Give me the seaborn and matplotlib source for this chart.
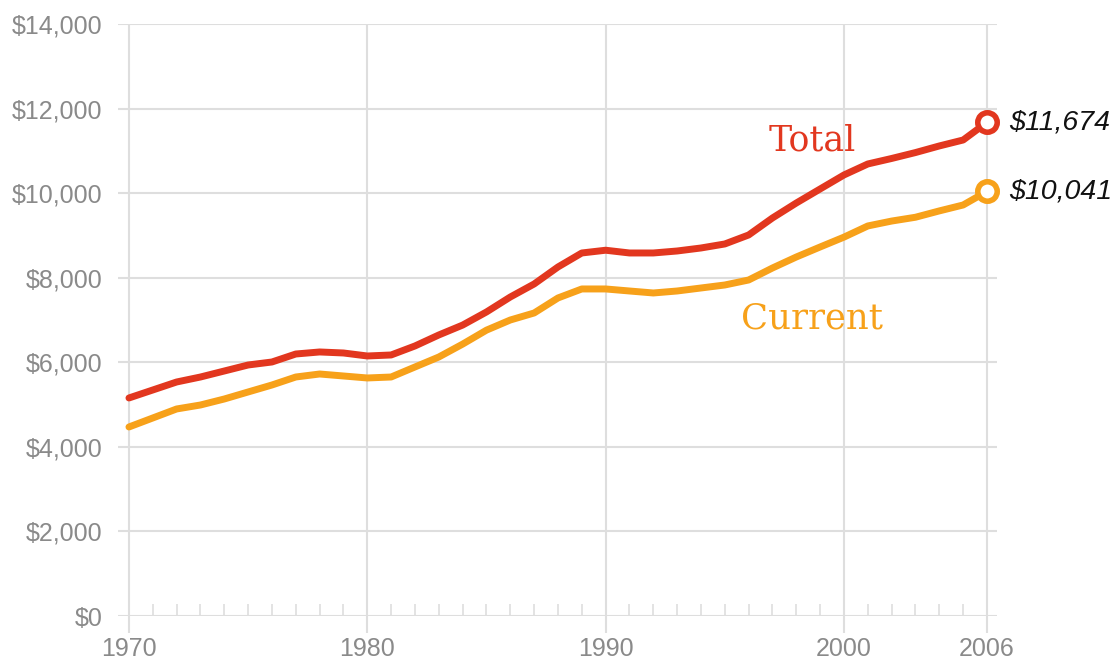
import matplotlib
matplotlib.use("Agg")
import matplotlib.pyplot as plt
import seaborn as sns
import pandas as pd
from matplotlib.ticker import FuncFormatter, MultipleLocator, FixedLocator

years = list(range(1970, 2007))
total = [5156, 5345, 5534, 5652, 5794, 5936, 6007, 6196, 6244, 6220,
         6149, 6173, 6386, 6646, 6880, 7190, 7544, 7852, 8254, 8585,
         8650, 8585, 8585, 8632, 8703, 8798, 9011, 9413, 9767, 10099,
         10430, 10690, 10820, 10960, 11116, 11257, 11674]
current = [4470, 4683, 4896, 4990, 5132, 5298, 5463, 5652, 5723, 5676,
           5629, 5652, 5889, 6125, 6430, 6760, 7000, 7166, 7521, 7734,
           7734, 7686, 7639, 7686, 7757, 7828, 7946, 8230, 8490, 8727,
           8960, 9224, 9340, 9430, 9580, 9720, 10041]
series_names = ["Total", "Current"]
xtick_years = [1970, 1980, 1990, 2000, 2006]

RED = "#E2371F"
ORANGE = "#F7A11A"
GRID = "#DEDEDE"
TICKC = "#8A8A8A"

df = pd.DataFrame({
    "year": years * 2,
    "value": total + current,
    "series": [series_names[0]] * len(years) + [series_names[1]] * len(years),
})

sns.set_theme(style="white")
plt.rcParams["font.family"] = ["Liberation Sans", "DejaVu Sans"]

fig = plt.figure(figsize=(11.17, 6.6), dpi=100)
ax = fig.add_axes([118 / 1117, 44 / 660, (997 - 118) / 1117, (616 - 24) / 660])

sns.lineplot(data=df, x="year", y="value", hue="series",
             palette={"Total": RED, "Current": ORANGE},
             linewidth=5, legend=False, ax=ax, zorder=3)

# endpoint markers
for vals, col in [(total, RED), (current, ORANGE)]:
    ax.plot([years[-1]], [vals[-1]], marker="o", markersize=14,
            markerfacecolor="white", markeredgecolor=col, markeredgewidth=4,
            zorder=5, clip_on=False)
    ax.annotate(f"${vals[-1]:,}", xy=(years[-1], vals[-1]),
                xytext=(16, 0), textcoords="offset points",
                ha="left", va="center", fontsize=20.5, style="italic",
                color="#111111", annotation_clip=False)

ax.text(1998.66, 11250, "Total", color=RED, fontsize=25,
        family=["DejaVu Serif"], ha="center", va="center")
ax.text(1998.66, 7040, "Current", color=ORANGE, fontsize=25.5,
        family=["DejaVu Serif"], ha="center", va="center")

ax.set_xlim(1969.54, 2006.42)
ax.set_ylim(0, 14000)
ax.yaxis.set_major_locator(MultipleLocator(2000))
ax.yaxis.set_major_formatter(FuncFormatter(lambda v, p: f"${int(v):,}"))
ax.xaxis.set_major_locator(FixedLocator(xtick_years))
ax.xaxis.set_minor_locator(FixedLocator([y for y in years if y not in xtick_years]))

ax.grid(True, which="major", color=GRID, linewidth=1.5, zorder=0)
ax.set_axisbelow(True)
for s in ax.spines.values():
    s.set_visible(False)

ax.tick_params(axis="y", left=False, length=0, pad=11, labelsize=18, labelcolor=TICKC)
ax.tick_params(axis="x", which="major", bottom=True, direction="out", length=12,
               width=1.5, color=GRID, pad=3, labelsize=18, labelcolor=TICKC)
ax.tick_params(axis="x", which="minor", bottom=True, direction="in", length=9,
               width=1.2, color=GRID)
ax.set_xlabel("")
ax.set_ylabel("")

fig.savefig("out.png", dpi=100, facecolor="white")
